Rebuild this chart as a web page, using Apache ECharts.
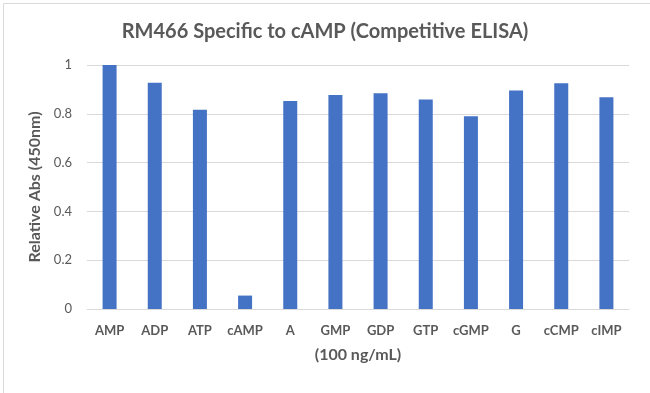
<!DOCTYPE html>
<html>
<head>
<meta charset="utf-8">
<script src="https://cdn.jsdelivr.net/npm/echarts@6/dist/echarts.min.js"></script>
<style>
html,body{margin:0;padding:0;background:#fff;}
#c{width:650px;height:393px;}
</style>
</head>
<body>
<div id="c"></div>
<script>
const categories = ["AMP","ADP","ATP","cAMP","A","GMP","GDP","GTP","cGMP","G","cCMP","cIMP"];
const values = [1.0, 0.927, 0.817, 0.055, 0.852, 0.877, 0.884, 0.859, 0.790, 0.896, 0.925, 0.868];
const yTicks = [0, 0.2, 0.4, 0.6, 0.8, 1];

const FONT = "Lato, 'Open Sans', sans-serif";
const chart = echarts.init(document.getElementById('c'), null, {renderer:'canvas'});
chart.setOption({
  animation: false,
  backgroundColor: '#fff',
  graphic: [{
    type: 'rect', left: 1, top: 1, shape: {width: 647, height: 390},
    style: {fill: 'none', stroke: '#d9d9d9', lineWidth: 1}, silent: true
  }],
  title: {
    text: 'RM466 Specific to cAMP (Competitive ELISA)',
    left: 'center', top: 17,
    textStyle: {fontFamily: FONT, fontSize: 20, fontWeight: 'bold', color: '#595959'}
  },
  grid: {left: 87, right: 21, top: 65, bottom: 84},
  xAxis: {
    type: 'category',
    data: categories,
    name: '(100 ng/mL)',
    nameLocation: 'middle',
    nameGap: 38,
    nameTextStyle: {fontFamily: FONT, fontSize: 16, fontWeight: 'bold', color: '#595959'},
    axisLine: {show: true, lineStyle: {color: '#d9d9d9', width: 1}},
    axisTick: {show: false},
    axisLabel: {fontFamily: FONT, fontSize: 13, fontWeight: 'bold', color: '#595959', margin: 15, interval: 0}
  },
  yAxis: {
    type: 'value',
    min: 0, max: 1, interval: 0.2,
    name: 'Relative Abs (450nm)',
    nameLocation: 'middle',
    nameGap: 42,
    nameRotate: 90,
    nameTextStyle: {fontFamily: FONT, fontSize: 16, fontWeight: 'bold', color: '#595959'},
    axisLine: {show: false},
    axisTick: {show: false},
    splitLine: {lineStyle: {color: '#d9d9d9', width: 1}},
    axisLabel: {
      fontFamily: FONT, fontSize: 13, color: '#595959', margin: 15,
      formatter: function(v){ return String(Math.round(v*10)/10); }
    }
  },
  series: [{
    type: 'bar',
    data: values,
    barWidth: 14,
    itemStyle: {color: '#4472C4'}
  }]
});
</script>
</body>
</html>
